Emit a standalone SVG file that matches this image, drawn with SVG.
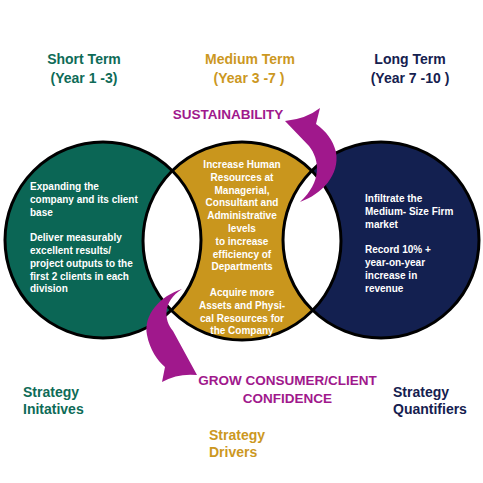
<svg xmlns="http://www.w3.org/2000/svg" width="483" height="483" viewBox="0 0 483 483">
<style>
.hd{font-family:"Liberation Sans",Arial,sans-serif;font-weight:bold;font-size:14px}
.body{font-family:"Liberation Sans",Arial,sans-serif;font-weight:bold;font-size:10px;fill:#ffffff}
.lbl{font-family:"Liberation Sans",Arial,sans-serif;font-weight:bold;font-size:14px}
.mg{font-family:"Liberation Sans",Arial,sans-serif;font-weight:bold;font-size:13.5px;fill:#a0188c}
.teal{fill:#0e6b57}
.gold{fill:#cc981f}
.navy{fill:#15204f}
.ring{fill:none;stroke:#000000;stroke-width:3}
.arrow{fill:#a0188c}
</style>
<defs>
<clipPath id="cl"><circle cx="103" cy="240" r="98"/></clipPath>
<clipPath id="cr"><circle cx="381" cy="240" r="98"/></clipPath>
</defs>
<rect width="483" height="483" fill="#ffffff"/>

<g id="headers">
<text class="hd teal" x="84" y="64" text-anchor="middle">Short Term</text>
<text class="hd teal" x="84" y="83" text-anchor="middle">(Year 1 -3)</text>
<text class="hd gold" x="250" y="64" text-anchor="middle">Medium Term</text>
<text class="hd gold" x="249" y="83" text-anchor="middle">(Year 3 -7 )</text>
<text class="hd navy" x="410" y="64" text-anchor="middle">Long Term</text>
<text class="hd navy" x="410" y="83" text-anchor="middle">(Year 7 -10 )</text>
</g>

<g id="node-short-term">
<circle cx="103" cy="240" r="98" fill="#0b6655"/>
</g>
<g id="node-long-term">
<circle cx="381" cy="240" r="98" fill="#132050"/>
</g>
<g id="node-medium-term">
<circle cx="242" cy="241" r="99" fill="#c9961d"/>
<circle cx="242" cy="241" r="99" fill="#ffffff" clip-path="url(#cl)"/>
<circle cx="242" cy="241" r="99" fill="#ffffff" clip-path="url(#cr)"/>
</g>
<g id="rings">
<circle class="ring" cx="103" cy="240" r="98"/>
<circle class="ring" cx="381" cy="240" r="98"/>
<circle class="ring" cx="242" cy="241" r="99"/>
</g>

<g id="text-short-term">
<text class="body" x="30" y="190">Expanding the</text>
<text class="body" x="30" y="202.8">company and its client</text>
<text class="body" x="30" y="215.6">base</text>
<text class="body" x="30" y="241.2">Deliver measurably</text>
<text class="body" x="30" y="254">excellent results/</text>
<text class="body" x="30" y="266.8">project outputs to the</text>
<text class="body" x="30" y="279.6">first 2 clients in each</text>
<text class="body" x="30" y="292.4">division</text>
</g>

<g id="text-medium-term" text-anchor="middle">
<text class="body" x="242" y="168">Increase Human</text>
<text class="body" x="242" y="180.8">Resources at</text>
<text class="body" x="242" y="193.6">Managerial,</text>
<text class="body" x="242" y="206.4">Consultant and</text>
<text class="body" x="242" y="219.2">Administrative</text>
<text class="body" x="242" y="232">levels</text>
<text class="body" x="242" y="244.8">to increase</text>
<text class="body" x="242" y="257.6">efficiency of</text>
<text class="body" x="242" y="270.4">Departments</text>
<text class="body" x="242" y="296">Acquire more</text>
<text class="body" x="242" y="308.8">Assets and Physi-</text>
<text class="body" x="242" y="321.6">cal Resources for</text>
<text class="body" x="242" y="334.4">the Company</text>
</g>

<g id="text-long-term">
<text class="body" x="365" y="202">Infiltrate the</text>
<text class="body" x="365" y="214.8">Medium- Size Firm</text>
<text class="body" x="365" y="227.6">market</text>
<text class="body" x="365" y="253.2">Record 10% +</text>
<text class="body" x="365" y="266">year-on-year</text>
<text class="body" x="365" y="278.8">increase in</text>
<text class="body" x="365" y="291.6">revenue</text>
</g>

<g id="connectors">
<path class="arrow" d="M300,202 C322,194 340,175 336,152 C333,140 326,131 316,124 L320,108 Q306,119 285,121 L309,146 C320,160 322,182 300,202 Z"/>
<path class="arrow" d="M182,289 C160,296 143,315 147,335 C150,350 157,360 165,367 L162,382 Q178,373 197,375 L173,331 C164,320 162,302 182,289 Z"/>
</g>

<g id="labels">
<text class="mg" x="228" y="119" text-anchor="middle">SUSTAINABILITY</text>
<text class="mg" x="287.5" y="385" text-anchor="middle">GROW CONSUMER/CLIENT</text>
<text class="mg" x="287.5" y="402.7" text-anchor="middle">CONFIDENCE</text>
<text class="lbl teal" x="23" y="397">Strategy</text>
<text class="lbl teal" x="23" y="414.3">Initatives</text>
<text class="lbl gold" x="209" y="440">Strategy</text>
<text class="lbl gold" x="209" y="457">Drivers</text>
<text class="lbl navy" x="393" y="397">Strategy</text>
<text class="lbl navy" x="393" y="414.3">Quantifiers</text>
</g>
</svg>
